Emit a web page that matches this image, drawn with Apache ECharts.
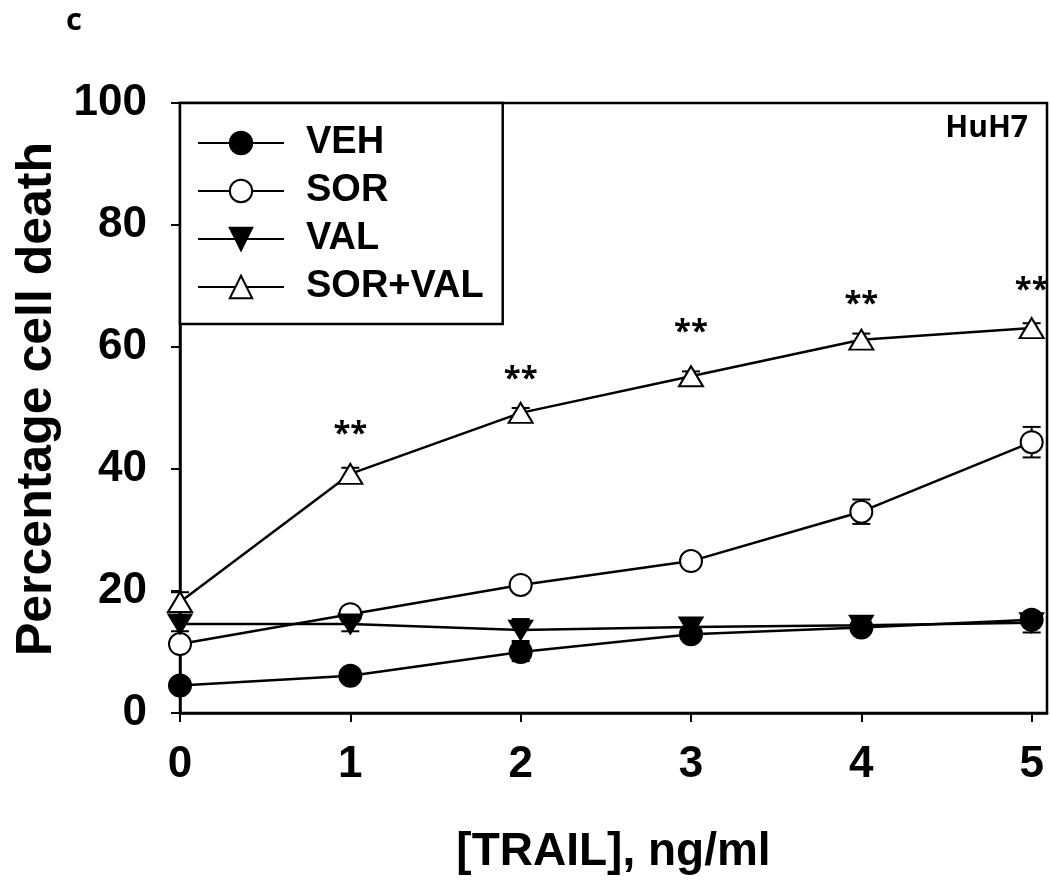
<!DOCTYPE html>
<html>
<head>
<meta charset="utf-8">
<script src="https://cdn.jsdelivr.net/npm/echarts@6/dist/echarts.min.js"></script>
<style>html,body{margin:0;padding:0;background:#fff;}#chart{width:1050px;height:880px;}</style>
</head>
<body>
<div id="chart"></div>
<script>
const xValues = [0, 1, 2, 3, 4, 5];
const xTickLabels = ['0', '1', '2', '3', '4', '5'];
const yTicks = [0, 20, 40, 60, 80, 100];
const seriesNames = ['VEH', 'SOR', 'VAL', 'SOR+VAL'];
const veh = [4.5, 6.1, 10.0, 12.9, 14.0, 15.3];
const vehErr = [0.5, 0.5, 1.5, 1.0, 1.0, 1.0];
const sor = [11.3, 16.2, 21.0, 24.9, 33.0, 44.4];
const sorErr = [1.0, 1.0, 0.8, 1.0, 2.0, 2.5];
const val = [14.6, 14.6, 13.6, 14.1, 14.4, 14.8];
const valErr = [1.2, 1.2, 1.8, 0.8, 1.2, 1.6];
const sorVal = [18.2, 39.2, 49.2, 55.2, 61.2, 63.1];
const sorValErr = [1.6, 1.0, 0.8, 0.8, 1.0, 0.8];
const starX = [1, 2, 3, 4, 5];
const starY = [46.5, 55.5, 63.2, 67.8, 70.2];
const starText = '**';

const chart = echarts.init(document.getElementById('chart'));
const ff = '"Liberation Sans", Arial, sans-serif';

function pairs(ys) { return xValues.map((x, i) => [x, ys[i]]); }
function errData(ys, es) { return xValues.map((x, i) => [x, ys[i] - es[i], ys[i] + es[i]]); }

function errSeries(ys, es) {
  return {
    type: 'custom',
    data: errData(ys, es),
    z: 1,
    silent: true,
    renderItem: function (params, api) {
      const x = api.value(0);
      const lo = api.coord([x, api.value(1)]);
      const hi = api.coord([x, api.value(2)]);
      const w = 9;
      const style = { stroke: '#000', lineWidth: 2 };
      return {
        type: 'group',
        children: [
          { type: 'line', shape: { x1: lo[0], y1: lo[1], x2: hi[0], y2: hi[1] }, style: style },
          { type: 'line', shape: { x1: lo[0] - w, y1: lo[1], x2: lo[0] + w, y2: lo[1] }, style: style },
          { type: 'line', shape: { x1: hi[0] - w, y1: hi[1], x2: hi[0] + w, y2: hi[1] }, style: style }
        ]
      };
    }
  };
}

function lineSeries(name, ys, symbol, size, fill) {
  return {
    name: name,
    type: 'line',
    data: pairs(ys),
    symbol: symbol,
    symbolSize: size,
    showAllSymbol: true,
    z: 3,
    lineStyle: { color: '#000', width: 2.5 },
    itemStyle: { color: fill, borderColor: '#000', borderWidth: 2 },
    emphasis: { disabled: true },
    animation: false
  };
}

const downTri = 'path://M0,0L24,0L12,20Z';

chart.setOption({
  animation: false,
  backgroundColor: '#fff',
  grid: { left: 180, right: 3, top: 103, bottom: 166, show: true, borderColor: '#000', borderWidth: 2.5, backgroundColor: 'transparent' },
  xAxis: {
    type: 'value', min: 0, max: 5.09, interval: 1,
    name: '[TRAIL], ng/ml', nameLocation: 'middle', nameGap: 116,
    nameTextStyle: { fontFamily: ff, fontWeight: 'bold', fontSize: 46, color: '#000' },
    axisLine: { show: true, lineStyle: { color: '#000', width: 2.5 } },
    axisTick: { show: true, inside: false, length: 9, lineStyle: { color: '#000', width: 2 }, customValues: xValues },
    axisLabel: { show: true, margin: 30, fontFamily: ff, fontWeight: 'bold', fontSize: 44, color: '#000', customValues: xValues, formatter: function (v) { return xTickLabels[xValues.indexOf(v)]; } },
    splitLine: { show: false }
  },
  yAxis: {
    type: 'value', min: 0, max: 100, interval: 20,
    name: 'Percentage cell death', nameLocation: 'middle', nameGap: 114, nameRotate: 90,
    nameTextStyle: { fontFamily: ff, fontWeight: 'bold', fontSize: 50, color: '#000', padding: [0, 0, 0, 18] },
    axisLine: { show: true, lineStyle: { color: '#000', width: 2.5 } },
    axisTick: { show: true, inside: false, length: 9, lineStyle: { color: '#000', width: 2 }, customValues: yTicks },
    axisLabel: { show: true, margin: 33, fontFamily: ff, fontWeight: 'bold', fontSize: 44, color: '#000', customValues: yTicks },
    splitLine: { show: false }
  },
  legend: {
    data: seriesNames,
    orient: 'vertical',
    left: 180, top: 103,
    padding: [20, 19, 17, 17],
    itemGap: 8,
    itemWidth: 86, itemHeight: 28,
    borderColor: '#000', borderWidth: 2.5,
    backgroundColor: '#fff',
    selectedMode: false,
    textStyle: { fontFamily: ff, fontWeight: 'bold', fontSize: 38, color: '#000', lineHeight: 40, padding: [0, 0, 0, 17] }
  },
  graphic: [
    { type: 'text', left: 66, top: 6, style: { text: 'c', font: 'bold 31px "Open Sans", sans-serif', fill: '#000' } },
    { type: 'text', right: 22, top: 113, style: { text: 'HuH7', font: 'bold 30px "Open Sans", sans-serif', fill: '#000' } }
  ],
  series: [
    errSeries(veh, vehErr),
    errSeries(sor, sorErr),
    errSeries(val, valErr),
    errSeries(sorVal, sorValErr),
    lineSeries('VEH', veh, 'circle', 22, '#000'),
    lineSeries('SOR', sor, 'circle', 22, '#fff'),
    lineSeries('VAL', val, downTri, [23, 19], '#000'),
    lineSeries('SOR+VAL', sorVal, 'triangle', [24, 20], '#fff'),
    {
      type: 'scatter',
      data: starX.map((x, i) => [x, starY[i]]),
      symbolSize: 0,
      silent: true,
      z: 5,
      itemStyle: { opacity: 1 },
      label: { show: true, position: 'inside', offset: [0, 5], opacity: 1, formatter: starText, fontFamily: '"Open Sans", sans-serif', fontWeight: 'bold', fontSize: 31, color: '#000' }
    }
  ]
});
</script>
</body>
</html>
